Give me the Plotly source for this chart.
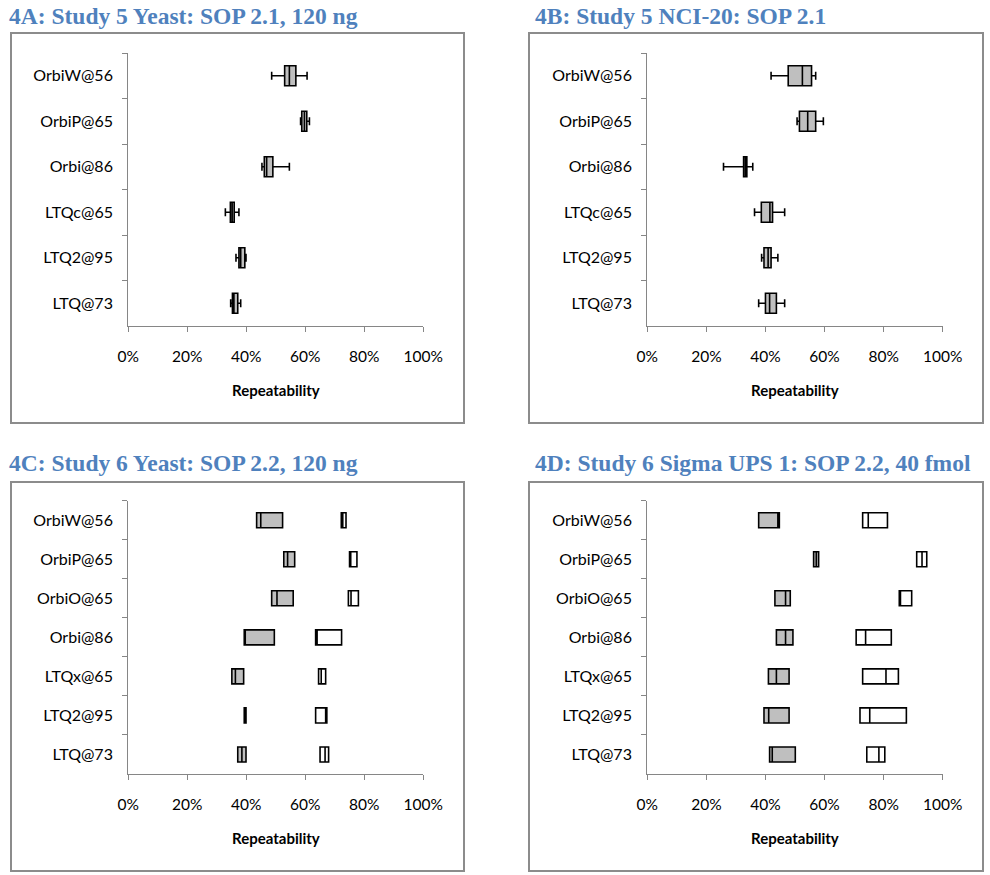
import plotly.graph_objects as go

# ---------------- data ----------------
cats_ab = ["OrbiW@56", "OrbiP@65", "Orbi@86", "LTQc@65", "LTQ2@95", "LTQ@73"]

a_lo  = [0.486, 0.584, 0.453, 0.329, 0.365, 0.347]
a_q1  = [0.530, 0.588, 0.461, 0.346, 0.375, 0.353]
a_med = [0.546, 0.597, 0.469, 0.352, 0.381, 0.358]
a_q3  = [0.568, 0.605, 0.490, 0.359, 0.395, 0.371]
a_hi  = [0.606, 0.614, 0.546, 0.375, 0.399, 0.381]

b_lo  = [0.419, 0.507, 0.258, 0.363, 0.387, 0.377]
b_q1  = [0.477, 0.515, 0.326, 0.386, 0.395, 0.400]
b_med = [0.525, 0.543, 0.332, 0.415, 0.409, 0.414]
b_q3  = [0.556, 0.570, 0.337, 0.424, 0.419, 0.437]
b_hi  = [0.570, 0.596, 0.357, 0.465, 0.442, 0.465]

cats_cd = ["OrbiW@56", "OrbiP@65", "OrbiO@65", "Orbi@86", "LTQx@65", "LTQ2@95", "LTQ@73"]

c_gray_q1  = [0.435, 0.527, 0.486, 0.393, 0.351, 0.393, 0.371]
c_gray_med = [0.449, 0.540, 0.504, 0.395, 0.363, 0.396, 0.385]
c_gray_q3  = [0.523, 0.564, 0.559, 0.495, 0.391, 0.399, 0.399]
c_white_q1  = [0.722, 0.750, 0.746, 0.635, 0.645, 0.635, 0.650]
c_white_med = [0.727, 0.754, 0.755, 0.640, 0.654, 0.669, 0.667]
c_white_q3  = [0.738, 0.775, 0.780, 0.723, 0.669, 0.673, 0.679]

d_gray_q1  = [0.377, 0.563, 0.432, 0.437, 0.410, 0.395, 0.414]
d_gray_med = [0.442, 0.572, 0.468, 0.468, 0.437, 0.411, 0.423]
d_gray_q3  = [0.447, 0.580, 0.484, 0.493, 0.480, 0.480, 0.501]
d_white_q1  = [0.729, 0.912, 0.853, 0.707, 0.729, 0.720, 0.743]
d_white_med = [0.748, 0.930, 0.857, 0.739, 0.808, 0.753, 0.784]
d_white_q3  = [0.813, 0.946, 0.895, 0.826, 0.850, 0.877, 0.804]

x_ticks = [0, 0.2, 0.4, 0.6, 0.8, 1.0]
x_title = "Repeatability"
titles = ["4A: Study 5 Yeast: SOP 2.1, 120 ng",
          "4B: Study 5 NCI-20: SOP 2.1",
          "4C: Study 6 Yeast: SOP 2.2, 120 ng",
          "4D: Study 6 Sigma UPS 1: SOP 2.2, 40 fmol"]

# ---------------- layout constants ----------------
W, H = 990, 875
GRAY = "#BFBFBF"
AXC = "#868686"
FRAME = "#8C8C8C"
TITLE_C = "#4F81BD"
LBL_FONT = "Lato"

def px(x):
    return x / W

def py(y):
    return 1 - y / H

# pixel geometry of panels: (x0, x1) of plot area, (ytop, ybot)
panels = [
    dict(xd=(128.3, 423.3), yd=(53, 326), frame=(11, 33, 464, 423), title=(7, 16)),
    dict(xd=(647.3, 942.7), yd=(53, 326), frame=(529, 33, 983, 423), title=(533, 16)),
    dict(xd=(128.3, 423.3), yd=(500.7, 774), frame=(11, 482, 464, 871), title=(7, 463)),
    dict(xd=(647.3, 942.7), yd=(500.7, 774), frame=(529, 482, 983, 871), title=(533, 463)),
]

fig = go.Figure()

def add_box(i, cats, lo, q1, med, q3, hi, fill, width, whisk=True):
    ax = "" if i == 0 else str(i + 1)
    fig.add_trace(go.Box(
        y=cats, q1=q1, median=med, q3=q3,
        lowerfence=lo if whisk else q1,
        upperfence=hi if whisk else q3,
        orientation="h",
        fillcolor=fill,
        line=dict(color="black", width=1.6),
        width=width,
        whiskerwidth=0.4,
        boxpoints=False,
        showlegend=False,
        xaxis="x" + ax, yaxis="y" + ax,
    ))

add_box(0, cats_ab, a_lo, a_q1, a_med, a_q3, a_hi, GRAY, 0.44)
add_box(1, cats_ab, b_lo, b_q1, b_med, b_q3, b_hi, GRAY, 0.44)
add_box(2, cats_cd, None, c_gray_q1, c_gray_med, c_gray_q3, None, GRAY, 0.385, whisk=False)
add_box(2, cats_cd, None, c_white_q1, c_white_med, c_white_q3, None, "white", 0.385, whisk=False)
add_box(3, cats_cd, None, d_gray_q1, d_gray_med, d_gray_q3, None, GRAY, 0.385, whisk=False)
add_box(3, cats_cd, None, d_white_q1, d_white_med, d_white_q3, None, "white", 0.385, whisk=False)

layout = dict(
    width=W, height=H,
    autosize=False,
    margin=dict(l=0, r=0, t=0, b=0, pad=0, autoexpand=False),
    paper_bgcolor="white", plot_bgcolor="white",
    boxmode="overlay",
    showlegend=False,
    shapes=[], annotations=[],
)

for i, p in enumerate(panels):
    ax = "" if i == 0 else str(i + 1)
    n = len(cats_ab) if i < 2 else len(cats_cd)
    cats = cats_ab if i < 2 else cats_cd
    layout["xaxis" + ax] = dict(
        domain=[px(p["xd"][0]), px(p["xd"][1])],
        anchor="y" + ax,
        range=[0, 1],
        automargin=False,
        tickvals=x_ticks, tickformat=".0%",
        showline=True, linecolor=AXC, linewidth=1.3,
        ticks="outside", ticklen=5, tickcolor=AXC, tickwidth=1.3,
        showgrid=False, zeroline=False,
        ticklabelstandoff=11,
        tickfont=dict(family=LBL_FONT, size=15.5, color="black"),
        fixedrange=True,
    )
    layout["yaxis" + ax] = dict(
        domain=[py(p["yd"][1]), py(p["yd"][0])],
        anchor="x" + ax,
        type="category",
        automargin=False,
        categoryorder="array", categoryarray=cats,
        range=[n - 0.5, -0.5],
        showline=True, linecolor=AXC, linewidth=1.3,
        ticks="outside", ticklen=5, tickcolor=AXC, tickwidth=1.3,
        tickson="boundaries",
        showgrid=False, zeroline=False,
        ticklabelstandoff=11,
        tickfont=dict(family=LBL_FONT, size=16, color="black"),
        fixedrange=True,
    )
    fx0, fy0, fx1, fy1 = p["frame"]
    layout["shapes"].append(dict(
        type="rect", xref="paper", yref="paper",
        x0=px(fx0), x1=px(fx1), y0=py(fy1), y1=py(fy0),
        line=dict(color=FRAME, width=2), fillcolor="rgba(0,0,0,0)", layer="below",
    ))
    tx, ty = p["title"]
    layout["annotations"].append(dict(
        text="<b>" + titles[i] + "</b>", xref="paper", yref="paper",
        x=px(tx), y=py(ty), xanchor="left", yanchor="middle", showarrow=False,
        font=dict(family="Liberation Serif", size=23.5, color=TITLE_C),
    ))
    layout["annotations"].append(dict(
        text="<b>" + x_title + "</b>", xref="paper", yref="paper",
        x=px((p["xd"][0] + p["xd"][1]) / 2), y=py(p["yd"][1] + 64),
        xanchor="center", yanchor="middle", showarrow=False,
        font=dict(family=LBL_FONT, size=15, color="black"),
    ))

fig.update_layout(**layout)
fig.write_html(
    "out.html",
    config={"displayModeBar": False},
    post_script="document.body.style.margin='0';document.body.style.overflow='hidden';",
)
